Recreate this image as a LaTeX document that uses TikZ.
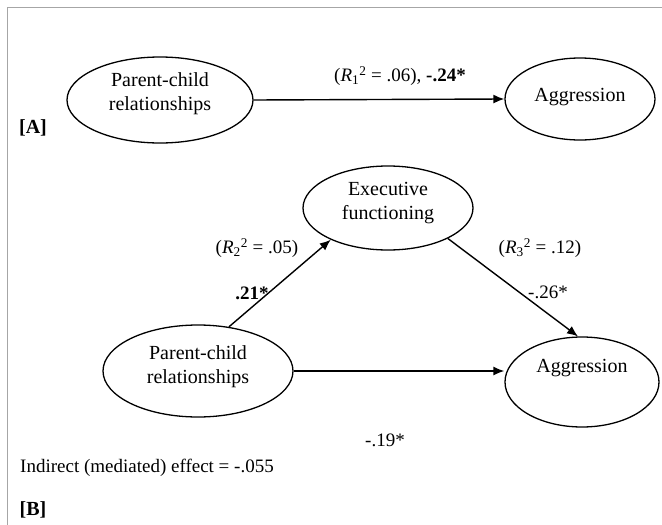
\documentclass[tikz,border=0pt]{standalone}
\usepackage{fontspec}
\setmainfont{Liberation Serif}
\usetikzlibrary{shapes.geometric,arrows.meta}
\begin{document}
\begin{tikzpicture}[x=1pt,y=-1pt,
  oval/.style={draw,ellipse,line width=1.3pt,inner sep=0pt},
  txt/.style={font=\fontsize{20}{24}\selectfont,align=center,inner sep=0pt},
  lab/.style={font=\fontsize{19}{23}\selectfont,inner sep=0pt},
  btxt/.style={font=\fontsize{20}{24}\selectfont\bfseries,inner sep=0pt},
  arr/.style={line width=1.4pt,-{Latex[length=11pt,width=9pt]}},
  frame/.style={draw=gray!70,line width=1pt}]
\useasboundingbox (0,0) rectangle (662,525);
\coordinate (tl) at (7,7);
\coordinate (tr) at (662,7);
\coordinate (bl) at (7,525);
\draw[frame] (tr) -- (tl) -- (bl);
% panel A
\node[oval,minimum width=186pt,minimum height=86pt] (pc1) at (160,100) {};
\node[txt] (pc1t) at (160,94) {Parent-child\\relationships};
\node[oval,minimum width=150pt,minimum height=82pt] (ag1) at (580,99) {};
\node[txt] (ag1t) at (580,97) {Aggression};
\draw[arr] (pc1.east) -- (ag1.west);
\node[lab] (l1) at (400,76) {(\textit{R}\textsubscript{1}\textsuperscript{2} = .06), \textbf{-.24*}};
\node[btxt] (la) at (33,128) {[A]};
% panel B
\node[oval,minimum width=170pt,minimum height=84pt] (ef) at (388,208) {};
\node[txt] (eft) at (388,203) {Executive\\functioning};
\node[oval,minimum width=190pt,minimum height=92pt] (pc2) at (198,371) {};
\node[txt] (pc2t) at (198,367) {Parent-child\\relationships};
\node[oval,minimum width=154pt,minimum height=90pt] (ag2) at (582,382) {};
\node[txt] (ag2t) at (582,368) {Aggression};
\draw[arr] (pc2.55) -- (ef.209);
\draw[arr] (ef.333) -- (ag2.95);
\draw[arr] (pc2.east) -- (ag2.west |- pc2.east);
\node[lab] (l2) at (257,248) {(\textit{R}\textsubscript{2}\textsuperscript{2} = .05)};
\node[lab] (l3) at (252,293) {\textbf{.21*}};
\node[lab] (l4) at (540,248) {(\textit{R}\textsubscript{3}\textsuperscript{2} = .12)};
\node[lab] (l5) at (548,292) {-.26*};
\node[lab] (l6) at (385,440) {-.19*};
\node[lab,anchor=west] (ind) at (20,468) {Indirect (mediated) effect = -.055};
\node[btxt] (lb) at (33,510) {[B]};
\end{tikzpicture}
\end{document}
